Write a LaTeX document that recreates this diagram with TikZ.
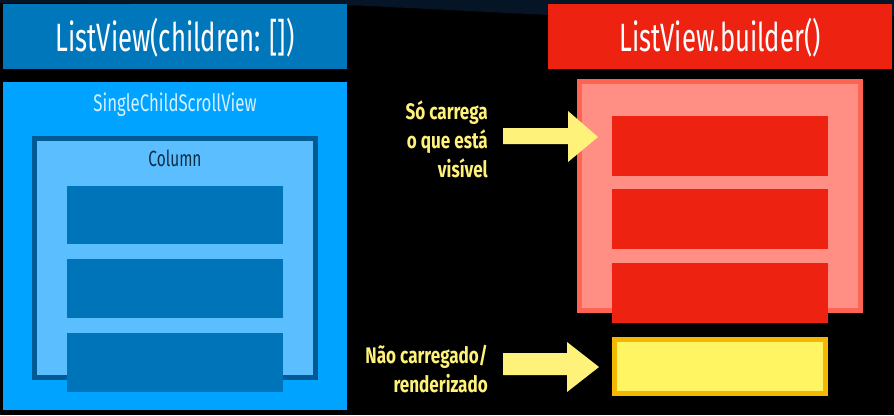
\documentclass[tikz,border=0pt]{standalone}
\usepackage{fontspec}
\newfontfamily\titlefont[FakeStretch=0.65]{Fira Sans}
\newfontfamily\smallfont[FakeStretch=0.70]{Fira Sans}
\newfontfamily\labfont[FakeStretch=0.76]{Fira Sans}
\definecolor{bgband}{HTML}{061526}
\definecolor{titleblue}{HTML}{0077BB}
\definecolor{titlered}{HTML}{EE2211}
\definecolor{scrollblue}{HTML}{00A3FF}
\definecolor{colborder}{HTML}{005A94}
\definecolor{colfill}{HTML}{5BBFFF}
\definecolor{itemblue}{HTML}{0074B8}
\definecolor{pinkborder}{HTML}{FF6352}
\definecolor{pinkfill}{HTML}{FF8E85}
\definecolor{itemred}{HTML}{EE2210}
\definecolor{yelborder}{HTML}{F5B800}
\definecolor{yelfill}{HTML}{FFF462}
\definecolor{labyellow}{HTML}{FFF27A}
\definecolor{scrolltext}{HTML}{D5F0FF}
\definecolor{coltext}{HTML}{0D2B45}
\tikzset{
  titlebox/.style={minimum width=344pt, minimum height=65pt, inner sep=0pt, text=white,
    font={\titlefont\fontsize{38.7}{40}\selectfont}},
  titletext/.style={anchor=base, text=white, inner sep=0pt, font={\titlefont\fontsize{39.5}{40}\selectfont}},
  lab/.style={anchor=east, align=right, text=labyellow, inner sep=0pt,
    font={\labfont\bfseries\fontsize{22.5}{29}\selectfont}},
  blockarrow/.style={fill=labyellow}
}
\begin{document}
\begin{tikzpicture}[x=1pt,y=-1pt]
\fill[black] (0,0) rectangle (894,415);
\useasboundingbox (0,0) rectangle (894,415);
% top dark band
\fill[bgband] (0,0) -- (894,0) -- (894,16) -- (548,15) -- (348,5) -- (0,3) -- cycle;
% titles
\node[titlebox, fill=titleblue] (tl) at (175,36.5) {\vphantom{Lg}};
\node[titletext] (tltext) at (175,51.7) {ListView(children: [])};
\node[titlebox, fill=titlered] (tr) at (720,36.5) {\vphantom{Lg}};
\node[titletext] (trtext) at (720,51.2) {ListView.builder()};
% left side
\fill[scrollblue] (3,82) rectangle (347,410);
\node[anchor=base, text=scrolltext, inner sep=0pt, font={\smallfont\fontsize{24}{26}\selectfont}] (scroll) at (175,111.7) {SingleChildScrollView};
\draw[line width=5pt, draw=colborder, fill=colfill] (34.5,138.5) rectangle (315.5,377.5);
\node[anchor=base, text=coltext, inner sep=0pt, font={\smallfont\fontsize{22}{24}\selectfont}] (col) at (175,166) {Column};
\fill[itemblue] (67,186) rectangle (283,244);
\fill[itemblue] (67,259) rectangle (283,318);
\fill[itemblue] (67,333) rectangle (283,392);
% right side
\draw[line width=5pt, draw=pinkborder, fill=pinkfill] (579.5,81.5) rectangle (860.5,310.5);
\fill[itemred] (612,116) rectangle (828,176);
\fill[itemred] (612,189) rectangle (828,249);
\fill[itemred] (612,263) rectangle (828,323);
\draw[line width=5pt, draw=yelborder, fill=yelfill] (614.5,339.5) rectangle (825.5,393.5);
% labels
\node[lab] (l1) at (488,139) {Só carrega\\o que está\\visível};
\node[lab] (l2) at (488,369) {Não carregado/\\renderizado};
% block arrows
\fill[blockarrow] (503,128) -- (568,128) -- (568,111) -- (598,137) -- (568,162) -- (568,144) -- (503,144) -- cycle;
\fill[blockarrow] (503,353) -- (567,353) -- (567,342) -- (599,367) -- (567,392) -- (567,375) -- (503,375) -- cycle;
\end{tikzpicture}
\end{document}
